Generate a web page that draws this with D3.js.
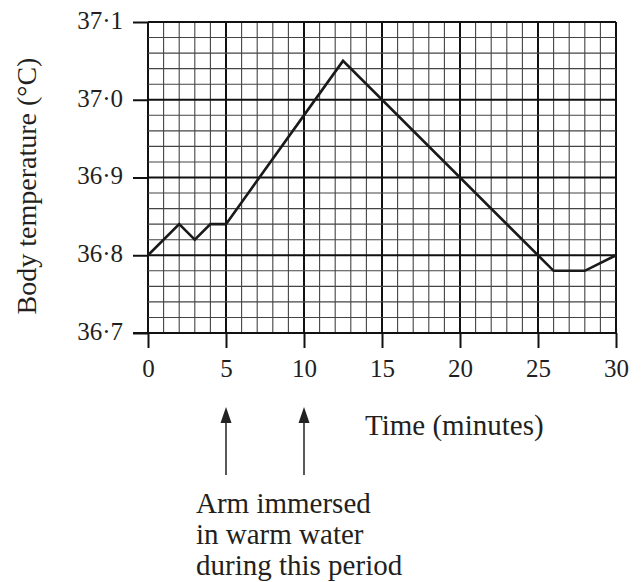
<!DOCTYPE html>
<html>
<head>
<meta charset="utf-8">
<script src="https://cdn.jsdelivr.net/npm/d3@7/dist/d3.min.js"></script>
<style>
  html, body { margin: 0; padding: 0; background: #fff; }
  svg { display: block; }
  text { font-family: "Liberation Serif", "Times New Roman", serif; fill: #231f20; }
</style>
</head>
<body>
<svg id="chart" width="642" height="582"></svg>
<script>
// ---- data ----
const timeMinutes = [0, 2, 3, 4, 5, 12.5, 26, 28, 30];
const bodyTemp    = [36.80, 36.84, 36.82, 36.84, 36.84, 37.05, 36.78, 36.78, 36.80];
const xTickValues = [0, 5, 10, 15, 20, 25, 30];
const yTickValues = [36.7, 36.8, 36.9, 37.0, 37.1];
const yTickLabels = ["36·7", "36·8", "36·9", "37·0", "37·1"];
const arrowTimes  = [5, 10];
const xTitle = "Time (minutes)";
const yTitle = "Body temperature (°C)";
const noteLines = ["Arm immersed", "in warm water", "during this period"];

// ---- layout ----
const svg = d3.select("#chart");
const x = d3.scaleLinear().domain([0, 30]).range([148, 616]);
const y = d3.scaleLinear().domain([36.7, 37.1]).range([333, 22]);

// grid
const grid = svg.append("g");
const xMinor = d3.range(0, 31, 1);
const yMinor = d3.range(0, 21).map(i => 36.7 + i * 0.02);
grid.selectAll("line.vx").data(xMinor).join("line")
  .attr("x1", d => x(d)).attr("x2", d => x(d))
  .attr("y1", y(36.7)).attr("y2", y(37.1))
  .attr("stroke", d => d % 5 === 0 ? "#111" : "#444")
  .attr("stroke-width", d => d % 5 === 0 ? 2 : 1.1);
grid.selectAll("line.hy").data(yMinor).join("line")
  .attr("x1", x(0)).attr("x2", x(30))
  .attr("y1", d => y(d)).attr("y2", d => y(d))
  .attr("stroke", (d, i) => i % 5 === 0 ? "#111" : "#444")
  .attr("stroke-width", (d, i) => i % 5 === 0 ? 2 : 1.1);

// axes
const xAxis = svg.append("g").attr("transform", `translate(0,${y(36.7)})`)
  .call(d3.axisBottom(x).tickValues(xTickValues).tickSize(15).tickPadding(11).tickFormat(d3.format("d")));
xAxis.select(".domain").attr("d", `M${x(0) - 15},0H${x(30)}`).attr("stroke", "#111").attr("stroke-width", 2);
xAxis.selectAll(".tick line").attr("stroke", "#111").attr("stroke-width", 2);
xAxis.selectAll(".tick text").attr("font-size", 25).attr("fill", "#231f20");

const yAxis = svg.append("g").attr("transform", `translate(${x(0)},0)`)
  .call(d3.axisLeft(y).tickValues(yTickValues).tickSize(15).tickPadding(10)
    .tickFormat((d, i) => yTickLabels[i]));
yAxis.select(".domain").remove();
yAxis.selectAll(".tick line").attr("stroke", "#111").attr("stroke-width", 2);
yAxis.selectAll(".tick text").attr("font-size", 25).attr("fill", "#231f20").attr("dy", "0.25em");

// data line
const pts = timeMinutes.map((t, i) => [t, bodyTemp[i]]);
svg.append("path").datum(pts)
  .attr("fill", "none").attr("stroke", "#1a1a1a").attr("stroke-width", 2.6)
  .attr("stroke-linejoin", "miter")
  .attr("d", d3.line().x(d => x(d[0])).y(d => y(d[1])));

// titles
svg.append("text").attr("x", 365).attr("y", 435).attr("font-size", 29).text(xTitle);
svg.append("text").attr("transform", "translate(36,186) rotate(-90)")
  .attr("text-anchor", "middle").attr("font-size", 28).text(yTitle);

// arrows
const arrows = svg.append("g");
arrows.selectAll("line").data(arrowTimes).join("line")
  .attr("x1", d => x(d)).attr("x2", d => x(d))
  .attr("y1", 475).attr("y2", 420)
  .attr("stroke", "#222").attr("stroke-width", 1.5);
arrows.selectAll("path").data(arrowTimes).join("path")
  .attr("d", d => `M${x(d)},407L${x(d) - 5.5},423L${x(d) + 5.5},423Z`)
  .attr("fill", "#222");

// note
svg.append("g").selectAll("text").data(noteLines).join("text")
  .attr("x", 196).attr("y", (d, i) => 513 + i * 31)
  .attr("font-size", 29).text(d => d);
</script>
</body>
</html>
